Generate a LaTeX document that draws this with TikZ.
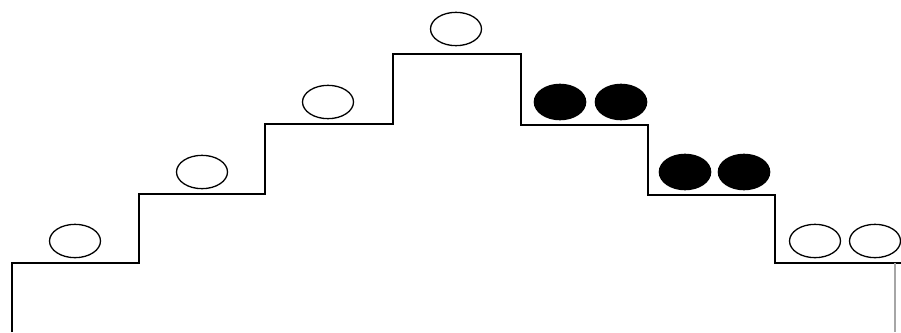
\documentclass[tikz,border=0pt]{standalone}
\usepackage{tikz}
\usetikzlibrary{shapes.geometric}

\begin{document}
\begin{tikzpicture}[
  x=0.3mm, y=-0.3mm,
  ball/.style={draw, ellipse, line width=1.1pt, minimum width=15.3mm, minimum height=10mm, inner sep=0pt},
  dark/.style={ball, fill=black, minimum width=15.4mm, minimum height=10.6mm},
  stair/.style={line width=1.8pt, line join=miter},
]
\useasboundingbox (0,0) rectangle (901,332);
% stair outline
\draw[stair] (12,332) -- (12,263) -- (139,263) -- (139,194) -- (265,194) -- (265,124)
  -- (393,124) -- (393,54) -- (521,54) -- (521,125) -- (648,125) -- (648,195)
  -- (775,195) -- (775,263) -- (901,263);
\draw[line width=1pt, black!35] (895,263) -- (895,332);
% open balls, left side
\node[ball] (o1) at (75,241) {};
\node[ball] (o2) at (202,172) {};
\node[ball] (o3) at (328,102) {};
\node[ball] (o4) at (456,29) {};
% filled balls
\node[dark] (f1) at (560,102) {};
\node[dark] (f2) at (621,102) {};
\node[dark] (f3) at (685,172) {};
\node[dark] (f4) at (744,172) {};
% open balls, right side
\node[ball] (o5) at (815,241) {};
\node[ball] (o6) at (875,241) {};
\end{tikzpicture}
\end{document}
